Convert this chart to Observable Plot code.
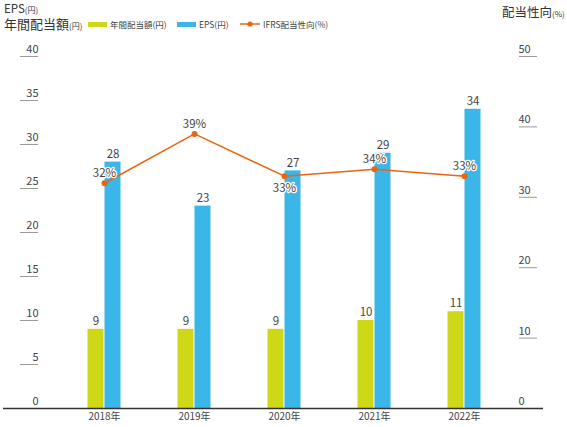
<!DOCTYPE html>
<html><head><meta charset="utf-8">
<script src="https://cdn.jsdelivr.net/npm/d3@7"></script>
<script src="https://cdn.jsdelivr.net/npm/@observablehq/plot@0.6"></script>
<style>
body{margin:0;background:#fff;font-family:"Noto Sans CJK JP","Noto Sans",sans-serif;color:#333}
#wrap{position:relative;width:567px;height:427px;overflow:hidden}
#head{position:relative;height:36px}
.t{position:absolute;white-space:nowrap;line-height:12px;font-size:13px}
.t small{font-size:8px}
.lg{position:absolute;top:20px;font-size:8.5px;display:flex;align-items:center;white-space:nowrap;line-height:1;color:#444}
.sw{display:inline-block;width:19px;height:5px;margin-right:3px}
</style></head>
<body>
<div id="wrap">
  <div id="head">
    <div class="t" style="left:4px;top:3px;font-size:11.5px;line-height:11px">EPS<small>(円)</small></div>
    <div class="t" style="left:4px;top:18px">年間配当額<small>(円)</small></div>
    <div class="lg" style="left:88px"><span class="sw" style="background:#cfd816"></span>年間配当額(円)</div>
    <div class="lg" style="left:177px"><span class="sw" style="background:#3bb6e8"></span>EPS(円)</div>
    <div class="lg" style="left:240px"><svg width="20" height="8" style="margin-right:3px"><line x1="0" y1="4" x2="20" y2="4" stroke="#ea6412" stroke-width="1.5"/><circle cx="10" cy="4" r="2.6" fill="#ea6412"/></svg>IFRS配当性向(%)</div>
    <div class="t" style="left:502px;top:6px;font-size:12.5px">配当性向<small>(%)</small></div>
  </div>
  <div id="chart"></div>
</div>
<script>
const years = ["2018年","2019年","2020年","2021年","2022年"];
const dividend = [9, 9, 9, 10, 11];
const eps = [28, 23, 27, 29, 34];
const payout = [32, 39, 33, 34, 33];
const leftTicks = [0, 5, 10, 15, 20, 25, 30, 35, 40];
const rightTicks = [0, 10, 20, 30, 40, 50];

const ratio = 40 / 50;
const table = years.map((year, i) => ({year, dividend: dividend[i], eps: eps[i], payout: payout[i]}));
const yellow = "#cfd816", blue = "#3bb6e8", orange = "#ea6412", txt = "#444";

const chart = Plot.plot({
  width: 567,
  height: 391,
  marginLeft: 38,
  marginRight: 24,
  marginTop: 20,
  marginBottom: 19,
  style: {fontFamily: '"Noto Sans CJK JP","Noto Sans",sans-serif', color: txt, background: "#fff"},
  x: {domain: years, range: [57, 510], paddingInner: 0.823, paddingOuter: 0.41, label: null},
  y: {domain: [0, 40], label: null},
  marks: [
    Plot.barY(table, {x: "year", y: "dividend", fill: yellow, dx: -8.5}),
    Plot.barY(table, {x: "year", y: "eps", fill: blue, dx: 8.5}),
    Plot.text(table, {x: "year", y: "dividend", text: d => String(d.dividend), dx: -8.5, dy: -8, fill: txt, fontSize: 11.5}),
    Plot.text(table, {x: "year", y: "eps", text: d => String(d.eps), dx: 8.5, dy: -8, fill: txt, fontSize: 11.5}),
    Plot.axisY({ticks: leftTicks.filter(d => d > 0), tickSize: 18, tickFormat: () => "", stroke: "#9a9a9a", label: null}),
    Plot.text(leftTicks, {y: d => d, text: d => String(d), frameAnchor: "left", textAnchor: "end", dy: -7, fill: txt, fontSize: 11}),
    Plot.axisY({anchor: "right", ticks: rightTicks.filter(d => d > 0).map(d => d * ratio), tickSize: 18, dx: -25, tickFormat: () => "", stroke: "#9a9a9a", label: null}),
    Plot.text(rightTicks, {y: d => d * ratio, text: d => String(d), frameAnchor: "right", textAnchor: "start", dx: -25, dy: -7, fill: txt, fontSize: 11}),
    Plot.ruleY([0], {stroke: "#333", strokeWidth: 1.5, insetLeft: -35}),
    Plot.axisX({tickSize: 0, tickPadding: 4, fontSize: 10, fill: txt, label: null}),
    Plot.line(table, {x: "year", y: d => d.payout * ratio, stroke: orange, strokeWidth: 1.5}),
    Plot.dot(table, {x: "year", y: d => d.payout * ratio, r: 3, fill: orange}),
    Plot.text(table.filter(d => d.year !== "2020年"), {x: "year", y: d => d.payout * ratio, text: d => d.payout + "%", dy: -10, fill: txt, stroke: "white", strokeWidth: 2.5, fontSize: 11.5}),
    Plot.text(table.filter(d => d.year === "2020年"), {x: "year", y: d => d.payout * ratio, text: d => d.payout + "%", dy: 12, fill: txt, stroke: "white", strokeWidth: 2.5, fontSize: 11.5})
  ]
});
document.getElementById("chart").appendChild(chart);
</script>
</body></html>
